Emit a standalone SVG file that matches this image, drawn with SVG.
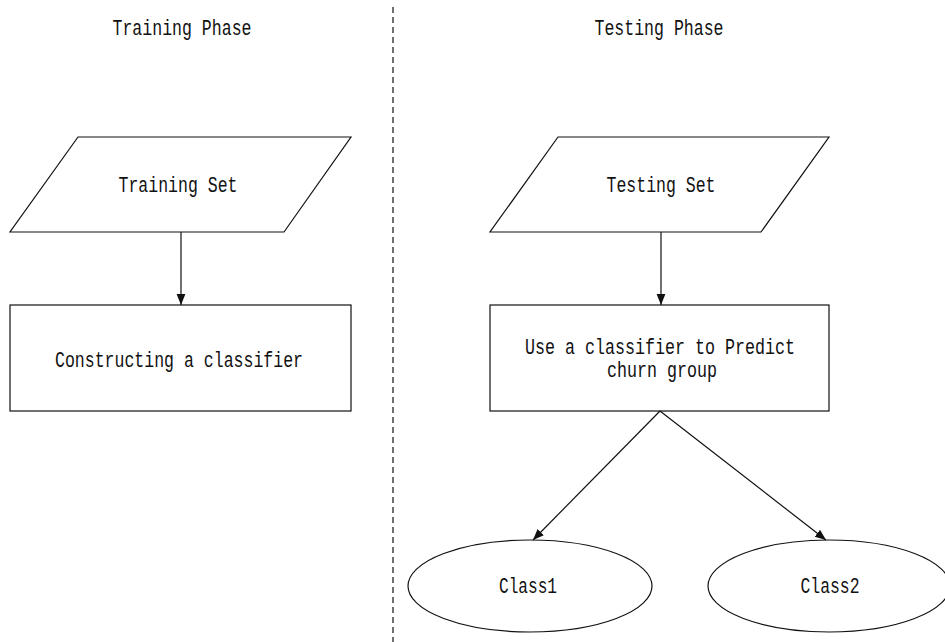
<svg xmlns="http://www.w3.org/2000/svg" width="945" height="642" viewBox="0 0 945 642">
<style>
.shape{fill:#fff;stroke:#111;stroke-width:1.2}
.edge{fill:none;stroke:#111;stroke-width:1.2}
.divider{fill:none;stroke:#111;stroke-width:1.2;stroke-dasharray:6 4}
text{font-family:"Liberation Mono","DejaVu Sans Mono",monospace;font-size:22px;fill:#111;text-anchor:middle}
</style>
<defs>
<marker id="arr" viewBox="0 0 10 10" refX="10" refY="5" markerWidth="11" markerHeight="11" markerUnits="userSpaceOnUse" orient="auto">
<path d="M0,1 L10,5 L0,9 Z" fill="#111"/>
</marker>
</defs>
<rect width="945" height="642" fill="#fff"/>
<line class="divider" x1="393" y1="7" x2="393" y2="642"/>
<text x="182" y="35" textLength="139" lengthAdjust="spacingAndGlyphs">Training Phase</text>
<text x="659" y="35" textLength="129" lengthAdjust="spacingAndGlyphs">Testing Phase</text>
<g id="training-set">
<polygon class="shape" points="78,137 351,137 284,232 10,232"/>
<text x="178" y="192" textLength="119" lengthAdjust="spacingAndGlyphs">Training Set</text>
</g>
<g id="construct">
<rect class="shape" x="10" y="305" width="341" height="106"/>
<text x="179" y="367" textLength="248" lengthAdjust="spacingAndGlyphs">Constructing a classifier</text>
</g>
<g id="testing-set">
<polygon class="shape" points="558,137 829,137 761,232 490,232"/>
<text x="661" y="192" textLength="109" lengthAdjust="spacingAndGlyphs">Testing Set</text>
</g>
<g id="predict">
<rect class="shape" x="490" y="305" width="339" height="106"/>
<text x="660" y="354" textLength="270" lengthAdjust="spacingAndGlyphs">Use a classifier to Predict</text>
<text x="662" y="377" textLength="110" lengthAdjust="spacingAndGlyphs">churn group</text>
</g>
<g id="class1">
<ellipse class="shape" cx="530" cy="586" rx="122" ry="46"/>
<text x="528" y="593" textLength="58" lengthAdjust="spacingAndGlyphs">Class1</text>
</g>
<g id="class2">
<ellipse class="shape" cx="829" cy="586" rx="121" ry="46"/>
<text x="830" y="593" textLength="59" lengthAdjust="spacingAndGlyphs">Class2</text>
</g>
<g id="connectors">
<line class="edge" x1="181" y1="232" x2="181" y2="305" marker-end="url(#arr)"/>
<line class="edge" x1="661" y1="232" x2="661" y2="305" marker-end="url(#arr)"/>
<line class="edge" x1="660" y1="411" x2="533" y2="540" marker-end="url(#arr)"/>
<line class="edge" x1="660" y1="411" x2="826" y2="540" marker-end="url(#arr)"/>
</g>
</svg>
